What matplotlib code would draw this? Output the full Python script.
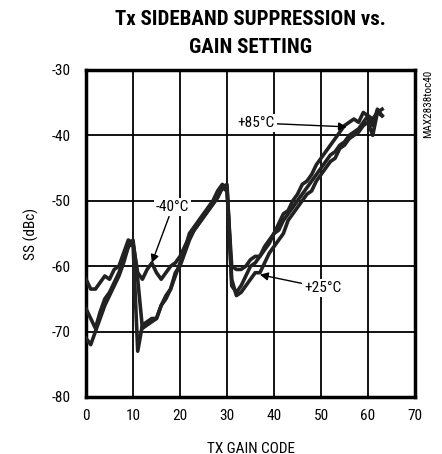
import matplotlib
matplotlib.use("Agg")
import matplotlib.pyplot as plt
from matplotlib import font_manager as fm

codes = list(range(64))
ss_m40 = [-62, -63.5, -63.5, -62.5, -61.5, -62, -60.5, -60, -58, -56, -56.5, -61, -62, -60.5, -59.5, -61,
          -62, -61, -60, -59.5, -58.5, -57, -55.5, -54.5, -53.5, -52.5, -51.5, -50.5, -49.5, -48, -48.5, -60,
          -60.5, -60.5, -60, -59, -58.5, -58.5, -57.5, -56.5, -55, -54.5, -53, -52, -51, -50, -49, -48,
          -47, -46, -45, -44, -43, -42.5, -41.5, -41, -40, -39.5, -39, -38, -37, -37.5, -36.5, -37]
ss_p25 = [-71, -72, -70, -68, -66, -64.5, -63, -61.5, -59.5, -57, -56.5, -73, -69, -68.5, -68, -68,
          -66, -65, -63.5, -61, -60, -58, -56, -54.5, -53.5, -52.5, -51.5, -50.5, -49.5, -48, -47.5, -62,
          -64.5, -64, -63, -62, -61, -61, -59.5, -58, -57, -56, -55, -53, -52, -51, -50, -49,
          -48.5, -47, -46, -45, -44, -43.5, -42, -41.5, -40.5, -40, -39.5, -38.5, -38, -40, -36.5, -36]
ss_p85 = [-66.5, -68, -69.5, -67, -65, -64, -62.5, -61, -59, -57, -56, -62, -69.5, -69, -68.5, -68,
          -66, -64.5, -63.5, -61.5, -59.5, -57.5, -55, -54, -53, -52, -51, -50, -48.5, -47.5, -48, -63,
          -64, -63, -61.5, -60, -59.5, -58.5, -57, -56, -55, -53.5, -52, -51.5, -50, -49, -47.5, -47,
          -46, -44.5, -43.5, -42.5, -41.5, -40.5, -39.5, -38.5, -38, -37.5, -38, -36.5, -37, -38.5, -36, -37]

xticks = [0, 10, 20, 30, 40, 50, 60, 70]
yticks = [-80, -70, -60, -50, -40, -30]


def pick(cands):
    for c in cands:
        try:
            fm.findfont(fm.FontProperties(family=c), fallback_to_default=False)
            return c
        except Exception:
            pass
    return 'DejaVu Sans'


FAM = pick(['Liberation Sans Narrow', 'Roboto Condensed', 'DejaVu Sans Condensed',
            'Open Sans Condensed', 'Liberation Sans', 'Roboto'])
plt.rcParams['font.family'] = [FAM, 'DejaVu Sans']
plt.rcParams['axes.unicode_minus'] = False
narrow = FAM in ('Liberation Sans Narrow', 'Roboto Condensed', 'DejaVu Sans Condensed', 'Open Sans Condensed')
fs = 11 if narrow else 10

fig = plt.figure(figsize=(4.42, 4.54), dpi=100)
ax = fig.add_axes([0.1946, 0.1256, 0.7443, 0.7203])

for ys in (ss_m40, ss_p25, ss_p85):
    ax.plot(codes, ys, color='#222222', lw=2.6, solid_joinstyle='round', zorder=3)

ax.set_xlim(0, 70)
ax.set_ylim(-80, -30)
ax.set_xticks(xticks)
ax.set_yticks(yticks)
ax.grid(True, color='black', lw=1.3, zorder=1)
ax.set_axisbelow(True)
for s in ax.spines.values():
    s.set_linewidth(2.5)
ax.tick_params(length=0, labelsize=fs, pad=11)
ax.tick_params(axis='x', pad=9)
ax.set_xlabel('TX GAIN CODE', fontsize=fs, labelpad=13)
ax.set_ylabel('SS (dBc)', fontsize=fs, labelpad=9)

axc = 0.1946 + 0.7443 / 2
fig.text(axc, 0.978, 'Tx SIDEBAND SUPPRESSION vs.\nGAIN SETTING', ha='center', va='top',
         fontsize=(15 if narrow else 12.5), fontweight='bold', linespacing=1.6)

bb = dict(facecolor='white', edgecolor='none', pad=1.5)
ap = dict(arrowstyle='-|>', color='black', lw=1.0, mutation_scale=12, shrinkA=0, shrinkB=0)
ax.annotate('+85°C', xy=(55.5, -38.7), xytext=(36.2, -38.1), fontsize=fs,
            ha='center', va='center', bbox=bb, arrowprops=ap, zorder=5)
ax.annotate('-40°C', xy=(14, -59.5), xytext=(18.4, -51), fontsize=fs,
            ha='center', va='center', bbox=bb, arrowprops=ap, zorder=5)
ax.annotate('+25°C', xy=(37, -61.3), xytext=(50.4, -63.3), fontsize=fs,
            ha='center', va='center', bbox=bb, arrowprops=ap, zorder=5)

fig.text(0.968, 0.846, 'MAX2838toc40', rotation=90, fontsize=(8 if narrow else 6),
         ha='center', va='top')

fig.savefig('out.png', dpi=100)
